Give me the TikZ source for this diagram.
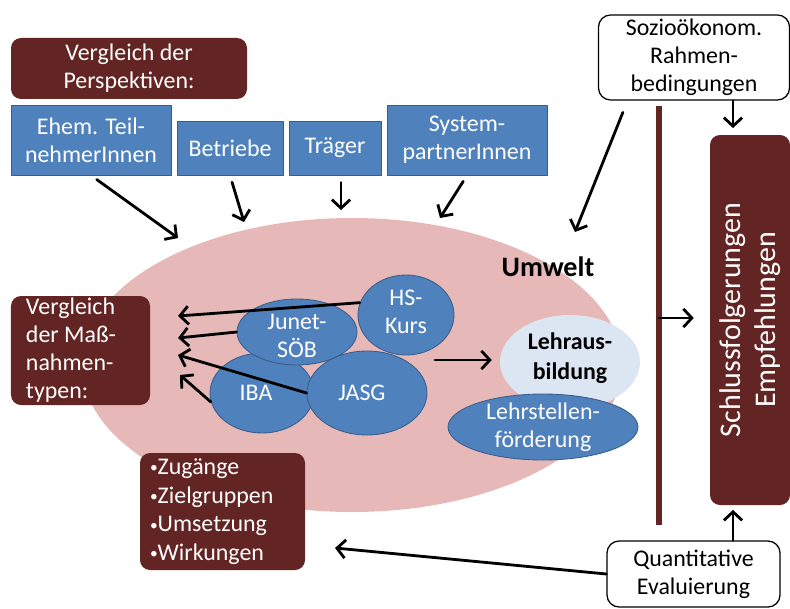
\documentclass[tikz,border=0pt]{standalone}
\usepackage{fontspec}
\setmainfont{Carlito}
\usepackage{tikz}
\usetikzlibrary{arrows.meta,shapes.geometric}
\definecolor{dunkelrot}{RGB}{99,37,35}
\definecolor{blau}{RGB}{79,129,189}
\definecolor{blaurand}{RGB}{56,93,138}
\definecolor{rosa}{RGB}{230,185,184}
\definecolor{hellblau}{RGB}{220,230,242}
\newcommand{\pkt}{\raisebox{1.2pt}{\fontsize{11}{11}\selectfont•}}

\begin{document}
\begin{tikzpicture}[line cap=round,line join=round,>={Straight Barb[length=6pt,width=13pt]},x=1.0cm,y=1.0cm,
  font=\fontsize{17}{19.9}\selectfont,
  pfeil/.style={->,line width=2pt,color=black},
  rotbox/.style={rectangle,fill=dunkelrot,rounded corners=0.25cm,text=white,inner sep=0pt},
  blaubox/.style={rectangle,fill=blau,draw=blaurand,line width=0.6pt,text=white,align=center,inner sep=0pt},
  blauell/.style={ellipse,fill=blau,draw=blaurand,line width=0.6pt,inner sep=0pt},
  weisstext/.style={text=white,align=center,inner sep=0pt},
  weissbox/.style={rectangle,fill=white,draw=black,line width=0.9pt,rounded corners=0.3cm,align=center,inner sep=0pt}]
\useasboundingbox[fill=white] (0,0) rectangle (19.75,15.2);
\node[ellipse,fill=rosa,minimum width=13.5cm,minimum height=7.35cm,inner sep=0pt] (umwelt) at (8.8,6.075) {};
\node[font=\fontsize{20}{24}\selectfont\bfseries] (umwelttext) at (13.7,8.525) {Umwelt};
\node[rotbox,align=center,minimum width=5.9cm,minimum height=1.525cm] (persp) at (3.225,13.4875) {Vergleich der\\Perspektiven:};
\node[blaubox,minimum width=4.0cm,minimum height=1.75cm] (ehem) at (2.275,11.7) {Ehem. Teil-\\nehmerInnen};
\node[blaubox,minimum width=2.65cm,minimum height=1.35cm] (betr) at (5.75,11.5) {Betriebe};
\node[blaubox,minimum width=2.3cm,minimum height=1.35cm] (traeger) at (8.375,11.5) {Träger};
\node[blaubox,minimum width=4.0cm,minimum height=1.75cm] (system) at (11.675,11.7) {System-\\partnerInnen};
\node[weissbox,minimum width=4.775cm,minimum height=2.125cm] (sozio) at (17.35,13.7625) {Sozioökonom.\\Rahmen-\\bedingungen};
\node[rotbox,rotate=90,align=center,minimum width=9.25cm,minimum height=2.0cm,font=\fontsize{21.3}{25}\selectfont] (schluss) at (18.75,7.2) {Schlussfolgerungen\\Empfehlungen};
\node[weissbox,minimum width=4.325cm,minimum height=1.65cm] (quant) at (17.3375,0.85) {Quantitative\\Evaluierung};
\node[rotbox,align=flush left,text width=2.725cm,minimum width=3.475cm,minimum height=2.725cm] (massn) at (2.0125,6.4375) {Vergleich\\der Maß-\\nahmen-\\typen:};
\node[rotbox,align=flush left,text width=3.625cm,minimum width=4.125cm,minimum height=2.925cm,font=\fontsize{17}{20.4}\selectfont] (zug) at (5.5625,2.4125) {\pkt Zugänge\\\pkt Zielgruppen\\\pkt Umsetzung\\\pkt Wirkungen};
\node[ellipse,fill=hellblau,minimum width=3.5cm,minimum height=2.35cm,inner sep=0pt] (lehraus) at (14.25,6.15) {};
\node[align=center,inner sep=0pt,font=\fontsize{17}{21}\selectfont\bfseries] (lehraustext) at (14.25,6.25) {Lehraus-\\bildung};
\node[blauell,minimum width=4.75cm,minimum height=1.65cm] (lehrst) at (13.575,4.525) {};
\node[weisstext] (lehrsttext) at (lehrst) {Lehrstellen-\\förderung};
\node[blauell,minimum width=2.6cm,minimum height=2.0cm] (iba) at (6.55,5.375) {};
\node[weisstext] (ibatext) at (6.4,5.375) {IBA};
\node[blauell,minimum width=3.0cm,minimum height=1.65cm] (junet) at (7.425,6.9) {};
\node[weisstext] (junettext) at (7.425,6.8) {Junet-\\SÖB};
\node[blauell,minimum width=3.0cm,minimum height=2.1cm] (jasg) at (9.175,5.375) {};
\node[weisstext] (jasgtext) at (9.05,5.375) {JASG};
\node[blauell,minimum width=2.4cm,minimum height=2.0cm] (hs) at (10.15,7.325) {};
\node[weisstext] (hstext) at (10.15,7.4) {HS-\\Kurs};
\coordinate (t1) at (4.45,9.25);
\coordinate (t2) at (6.1,9.65);
\coordinate (t3) at (8.525,9.95);
\coordinate (t4) at (11.0,9.75);
\coordinate (t5) at (14.375,9.4);
\coordinate (s1) at (18.325,12.0);
\coordinate (s2) at (18.325,2.45);
\coordinate (vtop) at (16.475,12.55);
\coordinate (vbot) at (16.475,2.075);
\coordinate (vmid) at (16.475,7.25);
\coordinate (z1) at (8.375,1.5);
\coordinate (m1) at (4.45,7.3);
\coordinate (m2) at (4.45,6.75);
\coordinate (m3) at (4.45,6.325);
\coordinate (m4) at (4.5,5.825);
\coordinate (l1) at (10.875,6.2);
\draw[pfeil,shorten <=5pt] (ehem.south) -- (t1);
\draw[pfeil,shorten <=5pt] (betr.south) -- (t2);
\draw[pfeil,shorten <=5pt] (traeger.south -| t3) -- (t3);
\draw[pfeil,shorten <=5pt] (system.south) -- (t4);
\draw[pfeil,shorten <=9pt] (sozio.213) -- (t5);
\draw[pfeil] (sozio.south -| s1) -- (s1);
\draw[line width=3.6pt,color=dunkelrot,line cap=butt] (vtop) -- (vbot);
\draw[pfeil,shorten >=0.4cm] (vmid) -- (vmid -| schluss.north);
\draw[pfeil] (quant.north -| s2) -- (s2);
\draw[pfeil] (quant.west) -- (z1);
\draw[pfeil] (hs.165) -- (m1);
\draw[pfeil] (junet.west) -- (m2);
\draw[pfeil] (jasg.west) -- (m3);
\draw[pfeil] (iba.190) -- (m4);
\draw[pfeil,shorten >=0.2cm] (l1) -- (l1 -| lehraus.west);
\end{tikzpicture}
\end{document}
